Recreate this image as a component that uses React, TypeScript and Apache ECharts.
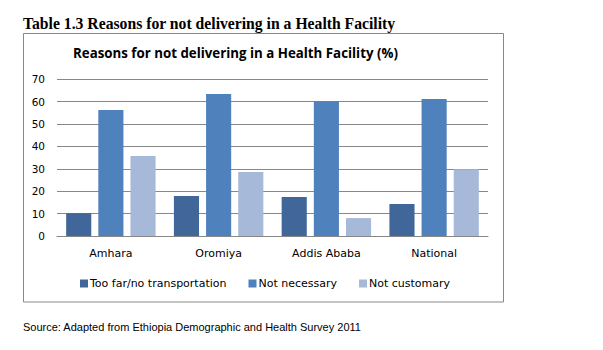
import React, { useEffect, useRef } from "react";
import * as echarts from "echarts";

const categories = ["Amhara", "Oromiya", "Addis Ababa", "National"];
const seriesNames = ["Too far/no transportation", "Not necessary", "Not customary"];
const tooFar = [10.2, 17.9, 17.4, 14.3];
const notNecessary = [56.3, 63.4, 60.2, 61.2];
const notCustomary = [35.7, 28.6, 8.0, 29.8];
const colors = ["#41679A", "#4F81BD", "#A7B9D9"];

export default function App() {
  const ref = useRef<HTMLDivElement>(null);
  useEffect(() => {
    if (!ref.current) return;
    const chart = echarts.init(ref.current, undefined, { renderer: "svg" });
    const values = [tooFar, notNecessary, notCustomary];
    chart.setOption({
      animation: false,
      backgroundColor: "#ffffff",
      grid: { left: 57, right: 115, top: 79.3, bottom: 114, containLabel: false },
      xAxis: {
        type: "category",
        data: categories,
        axisLine: { show: true, lineStyle: { color: "#888888", width: 1 } },
        axisTick: { show: false },
        axisLabel: { color: "#000000", fontFamily: "DejaVu Sans", fontSize: 11, margin: 12 },
      },
      yAxis: {
        type: "value",
        min: 0,
        max: 70,
        interval: 10,
        axisLine: { show: false },
        axisTick: { show: false },
        splitLine: { lineStyle: { color: "#888888", width: 1 } },
        axisLabel: { color: "#000000", fontFamily: "DejaVu Sans", fontSize: 10.5, margin: 12 },
      },
      legend: {
        data: seriesNames,
        left: 80,
        top: 278,
        padding: 0,
        itemWidth: 8,
        itemHeight: 8,
        itemGap: 22,
        icon: "rect",
        textStyle: { color: "#000000", fontFamily: "DejaVu Sans", fontSize: 11, padding: [0, 0, 0, -3] },
      },
      series: seriesNames.map((name, i) => ({
        name,
        type: "bar",
        data: values[i],
        barGap: "28%",
        barCategoryGap: "17%",
        itemStyle: { color: colors[i] },
      })),
      graphic: [
        {
          type: "rect",
          shape: { x: 23.5, y: 33.5, width: 480, height: 268.5 },
          style: { fill: "none", stroke: "#888888", lineWidth: 1 },
          silent: true,
        },
        {
          type: "text",
          x: 23,
          y: 23,
          style: {
            text: "Table 1.3 Reasons for not delivering in a Health Facility",
            fontFamily: "Liberation Serif",
            fontWeight: "bold",
            fontSize: 15.7,
            fill: "#000000",
            verticalAlign: "middle",
          },
        },
        {
          type: "text",
          x: 73,
          y: 53,
          style: {
            text: "Reasons for not delivering in a Health Facility (%)",
            fontFamily: "Open Sans",
            fontWeight: "bold",
            fontSize: 13.3,
            fill: "#000000",
            verticalAlign: "middle",
          },
        },
        {
          type: "text",
          x: 23,
          y: 327,
          style: {
            text: "Source: Adapted from Ethiopia Demographic and Health Survey 2011",
            fontFamily: "Liberation Sans",
            fontSize: 11,
            fill: "#000000",
            verticalAlign: "middle",
          },
        },
      ],
    });
    return () => chart.dispose();
  }, []);
  return (
    <div
      ref={ref}
      style={{ position: "fixed", left: 0, top: 0, width: 603, height: 350 }}
    />
  );
}
